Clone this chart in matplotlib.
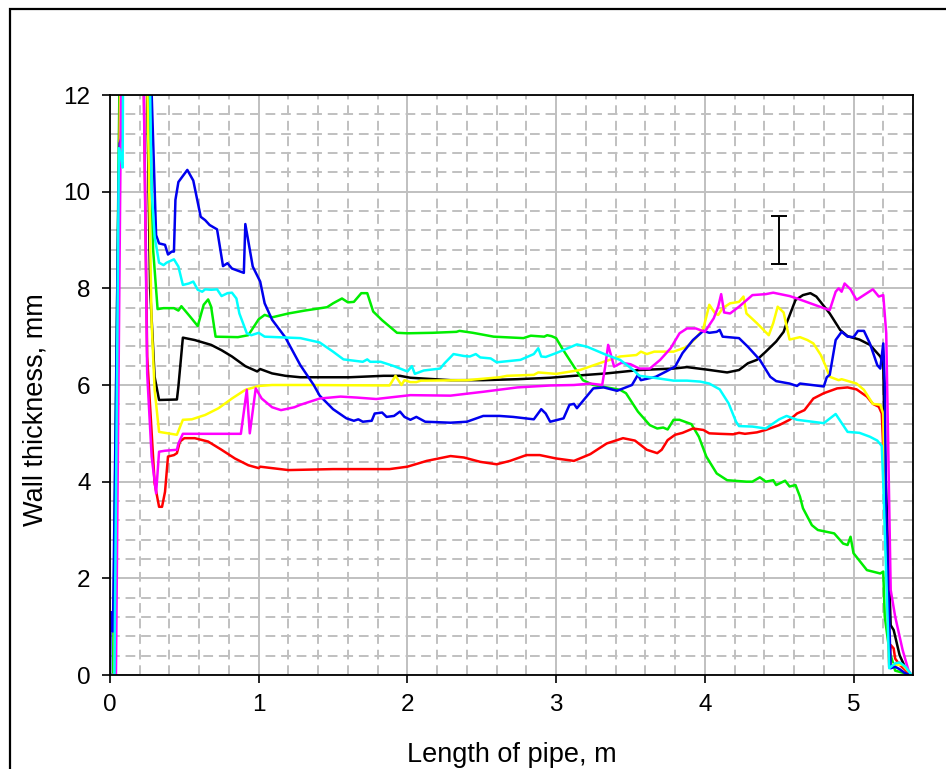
import numpy as np
import matplotlib.pyplot as plt
from matplotlib.patches import Rectangle

plt.rcParams['font.family'] = ['Liberation Sans', 'DejaVu Sans']

# ---------------------------
# Data (x in m, wall thickness in mm)
# values of 14 stand for the parts that run off the top of the chart
# ---------------------------

black_x = [0.0, 0.03, 0.07, 0.24, 0.27, 0.30, 0.33, 0.45, 0.46, 0.49, 0.57, 0.68, 0.75, 0.82, 0.91,
           0.99, 1.01, 1.09, 1.18, 1.28, 1.61, 1.84, 1.95, 2.02, 2.29, 2.51, 2.74, 2.96, 3.12, 3.34,
           3.56, 3.79, 3.88, 4.01, 4.15, 4.23, 4.29, 4.35, 4.41, 4.48, 4.53, 4.55, 4.61, 4.66, 4.71,
           4.75, 4.84, 4.91, 4.96, 5.04, 5.11, 5.18, 5.20, 5.21, 5.25, 5.27, 5.31, 5.36, 5.39]
black_y = [0.0, 0.0, 14, 14, 7.97, 6.17, 5.69, 5.70, 5.97, 6.98, 6.93, 6.83, 6.72, 6.59, 6.39,
           6.28, 6.33, 6.24, 6.19, 6.16, 6.16, 6.19, 6.19, 6.15, 6.10, 6.10, 6.12, 6.15, 6.19, 6.24,
           6.31, 6.34, 6.37, 6.32, 6.26, 6.31, 6.45, 6.52, 6.69, 6.90, 7.10, 7.28, 7.76, 7.86, 7.90,
           7.83, 7.48, 7.14, 7.01, 6.94, 6.83, 6.59, 6.45, 4.66, 1.03, 0.93, 0.41, 0.07, 0.0]

blue_x = [0.0, 0.005, 0.01, 0.015, 0.02, 0.055, 0.065, 0.075, 0.085, 0.26, 0.31, 0.33, 0.37, 0.39,
          0.415, 0.43, 0.44, 0.46, 0.52, 0.56, 0.61, 0.64, 0.67, 0.72, 0.76, 0.79, 0.82, 0.90, 0.91,
          0.96, 1.01, 1.04, 1.09, 1.18, 1.28, 1.37, 1.41, 1.50, 1.59, 1.64, 1.67, 1.70, 1.76, 1.78,
          1.83, 1.86, 1.91, 1.95, 1.98, 2.02, 2.06, 2.12, 2.29, 2.40, 2.51, 2.62, 2.71, 2.85, 2.90,
          2.93, 2.96, 3.05, 3.09, 3.12, 3.14, 3.25, 3.32, 3.41, 3.51, 3.55, 3.57, 3.67, 3.74, 3.80,
          3.85, 3.92, 3.99, 4.03, 4.08, 4.10, 4.12, 4.23, 4.29, 4.37, 4.44, 4.48, 4.57, 4.62, 4.64,
          4.80, 4.82, 4.84, 4.88, 4.92, 4.96, 5.00, 5.03, 5.07, 5.11, 5.16, 5.18, 5.20, 5.21, 5.22,
          5.25, 5.28, 5.31, 5.35, 5.39]
blue_y = [0.0, 1.3, 1.1, 1.3, 0.9, 9.5, 11.0, 11.1, 14, 14, 9.1, 8.93, 8.9, 8.7,
          8.76, 8.76, 9.83, 10.2, 10.45, 10.23, 9.48, 9.41, 9.31, 9.22, 8.46, 8.52, 8.41, 8.32, 9.33,
          8.45, 8.14, 7.69, 7.35, 6.98, 6.41, 6.0, 5.78, 5.5, 5.31, 5.26, 5.29, 5.24, 5.26, 5.41,
          5.43, 5.34, 5.36, 5.45, 5.34, 5.28, 5.34, 5.24, 5.22, 5.24, 5.36, 5.36, 5.34, 5.29, 5.50,
          5.41, 5.24, 5.31, 5.59, 5.61, 5.52, 5.93, 5.95, 5.88, 6.0, 6.21, 6.10, 6.17, 6.28, 6.38,
          6.66, 6.93, 7.12, 7.08, 7.10, 7.14, 7.0, 6.97, 6.79, 6.52, 6.17, 6.08, 6.03, 5.98, 6.03,
          5.97, 6.16, 6.21, 6.93, 7.10, 7.0, 6.99, 7.12, 7.12, 6.86, 6.41, 6.34, 6.86, 6.03, 3.28,
          0.14, 0.17, 0.12, 0.03, 0.0]

green_x = [0.0, 0.02, 0.07, 0.25, 0.29, 0.32, 0.36, 0.43, 0.46, 0.48, 0.54, 0.59, 0.63, 0.66, 0.68,
           0.71, 0.86, 0.93, 1.0, 1.04, 1.09, 1.20, 1.31, 1.46, 1.50, 1.56, 1.60, 1.64, 1.69, 1.73,
           1.77, 1.83, 1.93, 2.0, 2.17, 2.33, 2.35, 2.44, 2.58, 2.78, 2.83, 2.92, 2.94, 2.97, 3.0,
           3.04, 3.12, 3.18, 3.25, 3.43, 3.47, 3.55, 3.63, 3.68, 3.72, 3.75, 3.79, 3.83, 3.91, 3.96,
           4.01, 4.08, 4.15, 4.28, 4.32, 4.37, 4.41, 4.46, 4.48, 4.54, 4.57, 4.61, 4.64, 4.66, 4.72,
           4.76, 4.87, 4.93, 4.96, 4.98, 5.0, 5.09, 5.18, 5.20, 5.21, 5.24, 5.28, 5.39]
green_y = [0.0, 0.0, 14, 14, 8.8, 7.57, 7.59, 7.59, 7.54, 7.63, 7.41, 7.22, 7.66, 7.77, 7.62,
           7.0, 6.99, 7.03, 7.36, 7.45, 7.40, 7.48, 7.54, 7.61, 7.69, 7.79, 7.71, 7.72, 7.90, 7.90,
           7.52, 7.34, 7.08, 7.07, 7.08, 7.10, 7.12, 7.08, 7.0, 6.97, 7.02, 7.0, 7.03, 7.01, 6.97,
           6.76, 6.38, 6.10, 6.0, 5.90, 5.83, 5.45, 5.17, 5.10, 5.12, 5.08, 5.28, 5.28, 5.19, 4.93,
           4.52, 4.17, 4.03, 4.0, 4.0, 4.09, 4.0, 4.03, 3.93, 4.02, 3.90, 3.93, 3.69, 3.45, 3.10,
           3.0, 2.93, 2.72, 2.69, 2.86, 2.52, 2.17, 2.10, 2.14, 1.21, 0.52, 0.09, 0.0]

red_x = [0.0, 0.03, 0.075, 0.22, 0.25, 0.30, 0.33, 0.35, 0.37, 0.39, 0.43, 0.45, 0.47, 0.50, 0.57,
         0.66, 0.75, 0.84, 0.93, 1.0, 1.01, 1.09, 1.20, 1.50, 1.88, 2.0, 2.13, 2.29, 2.38, 2.49,
         2.60, 2.69, 2.80, 2.89, 3.0, 3.12, 3.23, 3.34, 3.45, 3.53, 3.61, 3.68, 3.71, 3.75, 3.80,
         3.85, 3.92, 3.99, 4.03, 4.10, 4.19, 4.23, 4.27, 4.35, 4.41, 4.50, 4.57, 4.62, 4.67, 4.73,
         4.80, 4.89, 4.96, 5.02, 5.09, 5.13, 5.17, 5.19, 5.21, 5.24, 5.25, 5.27, 5.28, 5.31, 5.36, 5.39]
red_y = [0.0, 0.0, 14, 14, 6.59, 3.97, 3.48, 3.48, 3.79, 4.52, 4.55, 4.59, 4.83, 4.90, 4.90,
         4.83, 4.66, 4.48, 4.34, 4.28, 4.31, 4.28, 4.24, 4.26, 4.26, 4.31, 4.43, 4.53, 4.50, 4.41,
         4.36, 4.43, 4.55, 4.55, 4.48, 4.43, 4.57, 4.79, 4.90, 4.85, 4.66, 4.59, 4.66, 4.86, 4.97,
         5.01, 5.10, 5.07, 5.0, 4.99, 4.98, 5.01, 4.99, 5.02, 5.07, 5.17, 5.28, 5.41, 5.48, 5.72,
         5.83, 5.93, 5.95, 5.91, 5.76, 5.61, 5.55, 5.41, 3.97, 0.17, 0.62, 0.55, 0.34, 0.21, 0.07, 0.0]

yellow_x = [0.0, 0.03, 0.075, 0.24, 0.28, 0.30, 0.33, 0.39, 0.45, 0.49, 0.55, 0.64, 0.73, 0.82, 0.91,
            1.0, 1.09, 1.31, 1.88, 1.92, 1.96, 1.98, 2.02, 2.06, 2.09, 2.40, 2.62, 2.67, 2.85, 2.88,
            3.0, 3.16, 3.32, 3.43, 3.54, 3.57, 3.61, 3.66, 3.79, 3.88, 3.94, 3.99, 4.01, 4.03, 4.07,
            4.09, 4.12, 4.17, 4.23, 4.26, 4.28, 4.35, 4.43, 4.46, 4.49, 4.53, 4.57, 4.64, 4.69, 4.73,
            4.78, 4.81, 4.84, 4.90, 4.92, 5.02, 5.07, 5.13, 5.18, 5.20, 5.21, 5.24, 5.28, 5.33, 5.37, 5.39]
yellow_y = [0.0, 0.0, 14, 14, 7.28, 5.90, 5.03, 5.0, 4.97, 5.28, 5.29, 5.38, 5.52, 5.72, 5.90,
            5.98, 6.0, 6.0, 5.99, 6.19, 6.0, 6.10, 6.06, 6.06, 6.09, 6.10, 6.16, 6.19, 6.21, 6.26,
            6.23, 6.31, 6.48, 6.59, 6.62, 6.69, 6.64, 6.69, 6.69, 6.79, 6.97, 7.17, 7.41, 7.66, 7.48,
            7.45, 7.59, 7.69, 7.72, 7.83, 7.48, 7.28, 7.03, 7.28, 7.62, 7.50, 6.94, 6.99, 6.93, 6.86,
            6.62, 6.41, 6.17, 6.10, 6.12, 6.03, 5.90, 5.61, 5.59, 5.41, 3.28, 0.24, 0.21, 0.21, 0.07, 0.0]

magenta_x = [0.0, 0.04, 0.08, 0.22, 0.25, 0.28, 0.31, 0.33, 0.37, 0.45, 0.46, 0.49, 0.64, 0.88, 0.92,
             0.94, 0.98, 1.02, 1.09, 1.15, 1.24, 1.28, 1.41, 1.55, 1.66, 1.79, 2.02, 2.29, 2.51, 2.74,
             2.96, 3.12, 3.23, 3.31, 3.33, 3.35, 3.39, 3.44, 3.50, 3.56, 3.63, 3.70, 3.77, 3.83, 3.88,
             3.94, 4.0, 4.06, 4.09, 4.11, 4.13, 4.17, 4.23, 4.32, 4.41, 4.46, 4.57, 4.62, 4.71, 4.80,
             4.84, 4.88, 4.90, 4.92, 4.94, 4.98, 5.02, 5.07, 5.13, 5.17, 5.20, 5.22, 5.25, 5.28, 5.33,
             5.37, 5.39]
magenta_y = [0.0, 0.0, 14, 14, 6.24, 4.52, 3.76, 4.62, 4.64, 4.66, 4.79, 4.99, 4.99, 4.99, 5.90,
             5.0, 5.93, 5.72, 5.54, 5.48, 5.54, 5.59, 5.72, 5.76, 5.74, 5.71, 5.79, 5.78, 5.86, 5.95,
             5.99, 6.0, 6.03, 6.0, 6.38, 6.83, 6.38, 6.46, 6.43, 6.34, 6.34, 6.52, 6.76, 7.07, 7.17,
             7.17, 7.10, 7.38, 7.62, 7.88, 7.50, 7.48, 7.62, 7.86, 7.88, 7.91, 7.84, 7.79, 7.69, 7.59,
             7.55, 7.93, 8.0, 7.93, 8.10, 7.98, 7.76, 7.86, 7.98, 7.83, 7.86, 7.07, 1.76, 1.21, 0.52,
             0.09, 0.0]

cyan_x = [0.0, 0.03, 0.06, 0.07, 0.085, 0.09, 0.26, 0.28, 0.30, 0.33, 0.36, 0.38, 0.43, 0.46, 0.49,
          0.53, 0.56, 0.59, 0.62, 0.64, 0.68, 0.72, 0.75, 0.79, 0.82, 0.85, 0.87, 0.92, 0.95, 1.0,
          1.04, 1.28, 1.41, 1.50, 1.57, 1.70, 1.73, 1.75, 1.82, 1.91, 2.0, 2.03, 2.05, 2.11, 2.22,
          2.25, 2.31, 2.38, 2.42, 2.46, 2.49, 2.56, 2.60, 2.76, 2.85, 2.88, 2.90, 2.93, 3.0, 3.14,
          3.21, 3.34, 3.43, 3.52, 3.56, 3.68, 3.79, 3.88, 3.97, 4.03, 4.10, 4.16, 4.21, 4.23, 4.32,
          4.41, 4.50, 4.55, 4.62, 4.80, 4.88, 4.96, 5.04, 5.11, 5.16, 5.19, 5.20, 5.24, 5.28, 5.31,
          5.35, 5.39]
cyan_y = [0.0, 0.0, 10.9, 10.8, 10.5, 14, 14, 10.03, 9.07, 8.53, 8.48, 8.53, 8.6, 8.45, 8.07,
          8.1, 8.14, 7.97, 7.93, 7.98, 7.97, 7.98, 7.84, 7.90, 7.91, 7.79, 7.48, 7.07, 7.03, 7.08,
          7.0, 6.97, 6.88, 6.69, 6.53, 6.48, 6.53, 6.48, 6.48, 6.39, 6.28, 6.39, 6.23, 6.30, 6.34,
          6.45, 6.64, 6.60, 6.59, 6.64, 6.57, 6.55, 6.47, 6.52, 6.64, 6.76, 6.59, 6.58, 6.66, 6.84,
          6.79, 6.62, 6.52, 6.31, 6.19, 6.14, 6.09, 6.09, 6.07, 6.03, 5.91, 5.62, 5.24, 5.15, 5.14,
          5.10, 5.29, 5.36, 5.28, 5.21, 5.40, 5.03, 5.01, 4.93, 4.85, 4.74, 3.97, 0.14, 0.24, 0.26,
          0.17, 0.0]

# error bar marker
err_x = [4.5]
err_y = [9.0]
err_half = [0.5]

# ---------------------------
# Figure
# ---------------------------

fig = plt.figure(figsize=(9.46, 7.69), dpi=100)
ax = fig.add_axes([110 / 946, 1 - 675 / 769, 803 / 946, 580 / 769])

# outer frame, right and bottom sides fall outside the picture
frame_top = 1 - 9 / 769
fig.patches.append(Rectangle((10 / 946, -0.2), 1.5, frame_top + 0.2, transform=fig.transFigure,
                             fill=False, edgecolor='black', linewidth=1.6, clip_on=False))

ax.set_xlim(0, 5.4)
ax.set_ylim(0, 12)
ax.set_xticks(np.arange(0, 6, 1))
ax.set_yticks(np.arange(0, 13, 2))
ax.set_xticks(np.arange(0, 5.41, 0.2), minor=True)
ax.set_yticks(np.arange(0, 12.01, 0.4), minor=True)

ax.grid(True, which='major', color='#c0c0c0', linewidth=1.4, linestyle='-')
ax.grid(True, which='minor', color='#c0c0c0', linewidth=1.4, linestyle=(0, (5, 3)))
ax.set_axisbelow(True)

ax.tick_params(which='major', direction='out', length=6, width=1.2, labelsize=17.5, pad=8)
ax.tick_params(which='minor', length=0)
for s in ax.spines.values():
    s.set_linewidth(1.3)

lw = 1.8
ax.plot(black_x, black_y, color='black', lw=lw)
ax.plot(green_x, green_y, color='#00ee00', lw=lw)
ax.plot(red_x, red_y, color='#ff0000', lw=lw)
ax.plot(yellow_x, yellow_y, color='#ffff00', lw=lw)
ax.plot(blue_x, blue_y, color='#0000ee', lw=lw)
ax.plot(magenta_x, magenta_y, color='#ff00ff', lw=lw)
ax.plot(cyan_x, cyan_y, color='#00ffff', lw=lw)

ax.errorbar(err_x, err_y, yerr=err_half, fmt='none', ecolor='black', elinewidth=1.4,
            capsize=6, capthick=1.4)

fig.text(511.5 / 946, 1 - 762 / 769, "Length of pipe, m", ha='center', va='baseline', fontsize=19.5)
fig.text(35 / 946, 1 - 410 / 769, "Wall thickness, mm", ha='center', va='center',
         rotation=90, fontsize=19.5)

fig.savefig("out.png", dpi=100)
